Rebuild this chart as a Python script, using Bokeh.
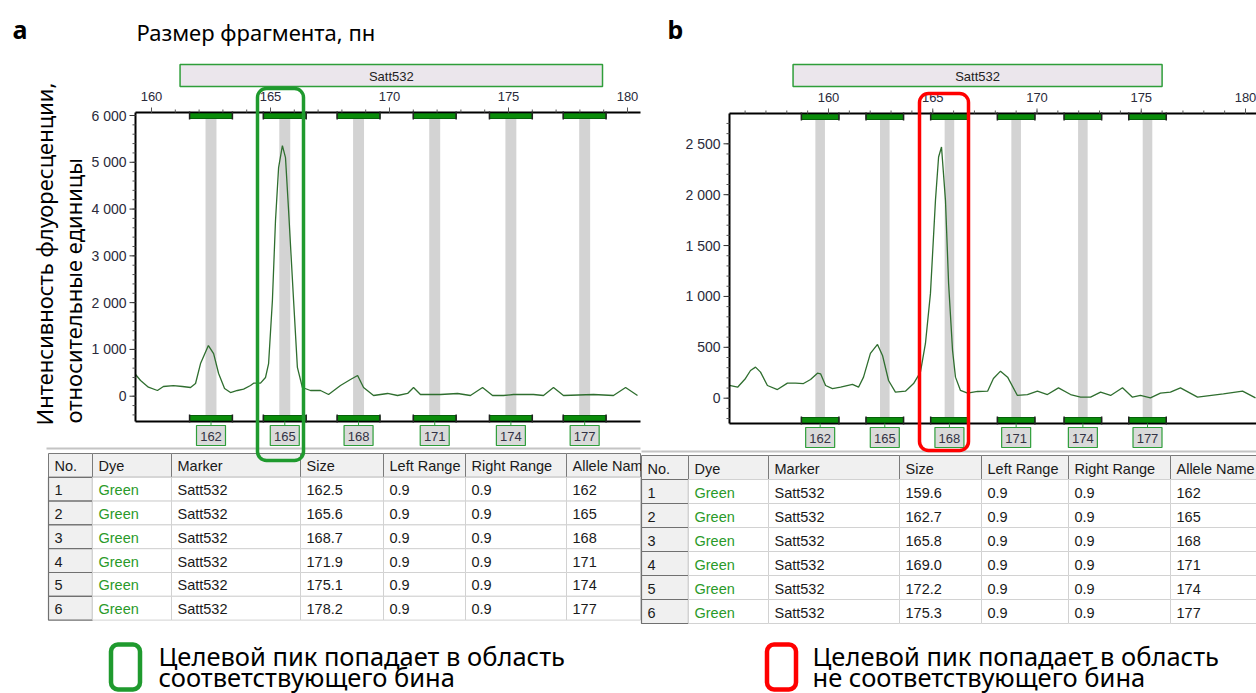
import math
from bokeh.plotting import figure
from bokeh.models import Range1d, BoxAnnotation
from bokeh.core.properties import value
from bokeh.embed import file_html
from bokeh.resources import INLINE

# ---------------- data ----------------
x_ticks = [160, 165, 170, 175, 180]
x_tick_labels = ["160", "165", "170", "175", "180"]
y_ticks_a = [0, 1000, 2000, 3000, 4000, 5000, 6000]
y_tick_labels_a = ["0", "1 000", "2 000", "3 000", "4 000", "5 000", "6 000"]
y_ticks_b = [0, 500, 1000, 1500, 2000, 2500]
y_tick_labels_b = ["0", "500", "1 000", "1 500", "2 000", "2 500"]

trace_size_a = [159.33, 159.54, 159.87, 160.25, 160.50, 160.92, 161.30, 161.64, 161.85, 162.06,
                162.39, 162.61, 162.82, 163.07, 163.32, 163.61, 163.87, 164.16, 164.29, 164.58,
                164.79, 164.92, 165.08, 165.21, 165.34, 165.50, 165.63, 165.76, 165.97, 166.13,
                166.34, 166.68, 167.10, 167.44, 167.94, 168.36, 168.66, 168.91, 169.33, 169.92,
                170.34, 170.76, 171.01, 171.30, 172.14, 172.86, 173.40, 173.91, 174.33, 174.79,
                175.21, 176.05, 176.47, 176.89, 177.31, 178.57, 179.41, 179.92, 180.42]
trace_rfu_a = [463, 335, 193, 122, 207, 228, 207, 186, 271, 698,
               1083, 912, 485, 165, 79, 122, 150, 228, 278, 280,
               400, 698, 2045, 3754, 4886, 5356, 5100, 3968, 2045, 615,
               186, 122, 122, 36, 228, 356, 442, 186, 15, 58,
               15, 58, 186, 36, 36, 58, 15, 186, 15, 15,
               36, 36, 15, 186, 15, 36, 15, 186, 15]

trace_size_b = [155.25, 155.64, 156.02, 156.26, 156.50, 156.74, 157.07, 157.55, 158.03, 158.42,
                158.80, 159.14, 159.47, 159.62, 159.86, 160.19, 160.58, 161.15, 161.44, 161.68,
                162.01, 162.35, 162.59, 162.88, 163.21, 163.69, 164.08, 164.41, 164.65, 164.89,
                165.13, 165.28, 165.42, 165.61, 165.76, 165.95, 166.09, 166.33, 166.67, 167.15,
                167.63, 167.91, 168.25, 168.59, 169.06, 169.54, 170.02, 170.50, 171.03, 171.61,
                172.09, 172.57, 173.05, 173.53, 174.10, 174.58, 174.96, 175.44, 175.92, 176.40,
                176.88, 177.70, 178.94, 179.86, 180.48]
trace_rfu_b = [125, 108, 194, 272, 305, 256, 125, 85, 148, 148,
               144, 184, 246, 240, 125, 95, 108, 135, 108, 207,
               440, 528, 420, 174, 59, 69, 144, 256, 538, 1030,
               1944, 2370, 2468, 1944, 1128, 469, 207, 76, 49, 66,
               69, 194, 266, 207, 27, 36, 69, 36, 102, 36,
               10, 10, 59, 27, 102, 10, 27, 3, 49, 59,
               102, 10, 43, 69, 3]

bin_no = [1, 2, 3, 4, 5, 6]
bin_dye = ["Green", "Green", "Green", "Green", "Green", "Green"]
bin_marker = ["Satt532", "Satt532", "Satt532", "Satt532", "Satt532", "Satt532"]
bin_size_a = [162.5, 165.6, 168.7, 171.9, 175.1, 178.2]
bin_size_b = [159.6, 162.7, 165.8, 169.0, 172.2, 175.3]
bin_left_range = [0.9, 0.9, 0.9, 0.9, 0.9, 0.9]
bin_right_range = [0.9, 0.9, 0.9, 0.9, 0.9, 0.9]
allele_names = ["162", "165", "168", "171", "174", "177"]
marker_name = "Satt532"
marker_range_a = [161.2, 178.95]
marker_range_b = [158.3, 176.0]
headers_a = ["No.", "Dye", "Marker", "Size", "Left Range", "Right Range", "Allele Nam"]
headers_b = ["No.", "Dye", "Marker", "Size", "Left Range", "Right Range", "Allele Name"]

title_text = "Размер фрагмента, пн"
ylabel_1 = "Интенсивность флуоресценции,"
ylabel_2 = "относительные единицы"
legend_good = ["Целевой пик попадает в область", "соответствующего бина"]
legend_bad = ["Целевой пик попадает в область", "не соответствующего бина"]

# ---------------- canvas (1 unit = 1 px of the page) ----------------
X0, X1, Y0, Y1 = 0, 1256, 0, 693
p = figure(width=X1 - X0, height=Y1 - Y0, x_range=Range1d(X0, X1), y_range=Range1d(Y1, Y0),
           output_backend="svg", toolbar_location=None, min_border=0,
           x_axis_location=None, y_axis_location=None)
p.grid.visible = False
p.outline_line_color = None
p.background_fill_color = "white"

RU = value("Noto Sans")
LS = value("Liberation Sans")


def txt(x, y, s, size, font=RU, color="#000000", align="left", baseline="middle",
        style="normal", angle=0.0, xr="default", yr="default"):
    n = max(len(v) if isinstance(v, list) else 1 for v in (x, y, s))

    def bc(v):
        return list(v) if isinstance(v, list) else [v] * n

    p.text(x=bc(x), y=bc(y), text=bc(s), text_font=font, text_font_size=size,
           text_color=color, text_align=align, text_baseline=baseline,
           text_font_style=style, angle=angle, x_range_name=xr, y_range_name=yr)


PA = dict(x160=151.0, pxu=23.8, y0=395.7, pyu=280.7 / 6000, left=135, right=640, top=112,
          bottom=421, label_y=435, bar_top=64, bar_bottom=86, minor_y=200)
PB = dict(x160=828.0, pxu=20.85, y0=397.7, pyu=254.4 / 2500, left=729, right=1256, top=113,
          bottom=423, label_y=437, bar_top=64, bar_bottom=86, minor_y=100)


def xd(P, px):
    return 160 + (px - P["x160"]) / P["pxu"]


def yd(P, py):
    return (P["y0"] - py) / P["pyu"]


def draw_panel(P, key, ts, tv, sizes, yt, ytl, mrange):
    xr, yr = key + "x", key + "y"
    p.extra_x_ranges[xr] = Range1d(xd(P, X0), xd(P, X1))
    p.extra_y_ranges[yr] = Range1d(yd(P, Y1), yd(P, Y0))
    L, R, T, B = P["left"], P["right"], P["top"], P["bottom"]
    lo = [s - l for s, l in zip(sizes, bin_left_range)]
    hi = [s + r for s, r in zip(sizes, bin_right_range)]
    # gray bin columns
    p.quad(left=[s - 0.23 for s in sizes], right=[s + 0.23 for s in sizes], top=T + 5,
           bottom=B - 5, x_range_name=xr, fill_color="#d3d3d3", line_color=None)
    # trace
    p.line(ts, tv, x_range_name=xr, y_range_name=yr, line_color="#2f6e2f", line_width=1.3)
    # frame
    p.segment(x0=[L, L, L], y0=[T, T, B], x1=[L, R, R], y1=[B, T, B],
              line_color="black", line_width=2)
    # top axis ticks
    xmin, xmax = math.ceil(xd(P, L)), math.floor(xd(P, R))
    minor = list(range(xmin, xmax + 1))
    p.segment(x0=minor, x1=minor, y0=T, y1=T - 3, x_range_name=xr, line_color="#555555")
    p.segment(x0=x_ticks, x1=x_ticks, y0=T, y1=T - 5, x_range_name=xr, line_color="#555555")
    txt(x_ticks, T - 16, x_tick_labels, "13px", font=LS, color="#2a2a3a", align="center",
        xr=xr)
    # left axis ticks
    step = P["minor_y"]
    ymin = math.ceil(yd(P, B) / step) * step
    ymax = math.floor(yd(P, T) / step) * step
    yminor = list(range(int(ymin), int(ymax) + 1, step))
    p.segment(x0=L - 3, x1=L, y0=yminor, y1=yminor, y_range_name=yr, line_color="#555555")
    p.segment(x0=L - 6, x1=L, y0=yt, y1=yt, y_range_name=yr, line_color="#333333")
    txt(L - 9, yt, ytl, "14px", font=LS, color="#2a2a3a", align="right", yr=yr)
    # bin bars top / bottom
    for top_, bot_ in ((T + 1, T + 6), (B - 6, B - 1)):
        p.quad(left=lo, right=hi, top=top_, bottom=bot_, x_range_name=xr,
               fill_color="#0a8c0a", line_color="#06600a", line_width=1)
    p.segment(x0=lo + hi, x1=lo + hi, y0=T - 1, y1=T + 7, x_range_name=xr,
              line_color="#222222", line_width=1.5)
    p.segment(x0=lo + hi, x1=lo + hi, y0=B - 7, y1=B + 1, x_range_name=xr,
              line_color="#222222", line_width=1.5)
    # bin label boxes
    ly = P["label_y"]
    p.segment(x0=sizes, x1=sizes, y0=B, y1=ly - 10, x_range_name=xr, line_color="#2e9e3a")
    p.rect(x=sizes, y=ly, width=29, height=20, width_units="screen", height_units="screen",
           x_range_name=xr, fill_color="#dadada", line_color="#2e9e3a", line_width=1.2)
    txt(sizes, ly + 1, allele_names, "13px", font=LS, color="#333344", align="center", xr=xr)
    # marker bar
    p.quad(left=[mrange[0]], right=[mrange[1]], top=P["bar_top"], bottom=P["bar_bottom"],
           x_range_name=xr, fill_color="#ebe6ec", line_color="#2f9e3a", line_width=1.5)
    txt((mrange[0] + mrange[1]) / 2, (P["bar_top"] + P["bar_bottom"]) / 2 + 1, marker_name,
        "13px", font=LS, color="#222222", align="center", xr=xr)


def draw_table(cols, top, rh, headers, sizes):
    lefts, rights = cols[:-1], cols[1:]
    pad, fs = 6, "14.5px"
    p.quad(left=lefts, right=rights, top=top, bottom=top + rh, fill_color="#f0f0f0",
           line_color="#7a7a7a", line_width=1)
    txt([l + pad for l in lefts], top + rh / 2 + 1, headers, fs, font=LS, color="#1a1a1a")
    cols_data = [[str(n) for n in bin_no], bin_dye, bin_marker, [f"{s:.1f}" for s in sizes],
                 [f"{v}" for v in bin_left_range], [f"{v}" for v in bin_right_range],
                 allele_names]
    ys = [top + rh * (i + 1) for i in range(len(bin_no))]
    for j in range(len(lefts)):
        if j == 0:
            p.quad(left=lefts[0], right=rights[0], top=ys, bottom=[y + rh for y in ys],
                   fill_color="#f0f0f0", line_color="#707070", line_width=1.2)
        else:
            p.quad(left=lefts[j], right=rights[j], top=ys, bottom=[y + rh for y in ys],
                   fill_color="white", line_color="#d2d2d2", line_width=1)
        color = "#2a9a2a" if j == 1 else "#1a1a1a"
        txt([lefts[j] + pad] * len(ys), [y + rh / 2 + 1 for y in ys], cols_data[j], fs,
            font=LS, color=color)


draw_panel(PA, "a", trace_size_a, trace_rfu_a, bin_size_a, y_ticks_a, y_tick_labels_a,
           marker_range_a)
draw_panel(PB, "b", trace_size_b, trace_rfu_b, bin_size_b, y_ticks_b, y_tick_labels_b,
           marker_range_b)

# separators above tables
p.segment(x0=[46, 641], x1=[640, 1256], y0=[448, 451], y1=[448, 451],
          line_color="#c4c4c4", line_width=2)
draw_table([48, 92, 171, 300, 383, 465, 566, 640], 453, 23.8, headers_a, bin_size_a)
draw_table([641, 688, 768, 899, 981, 1068, 1170, 1256], 455, 24.0, headers_b, bin_size_b)

# panel letters / titles
txt(12, 28, "a", "25px", style="bold")
txt(667, 28, "b", "25px", style="bold")
txt(136, 31, title_text, "22px")
txt(43, 425, ylabel_1, "22px", angle=math.pi / 2)
txt(72, 423, ylabel_2, "22px", angle=math.pi / 2)

# highlight boxes
p.add_layout(BoxAnnotation(left=257, right=303, top=88, bottom=460, fill_alpha=0,
                           line_color="#1f9a2e", line_width=3.5, line_alpha=1,
                           border_radius=9))
p.add_layout(BoxAnnotation(left=919, right=968, top=93, bottom=450, fill_alpha=0,
                           line_color="#ff0000", line_width=3.5, line_alpha=1,
                           border_radius=9))

# legend
p.add_layout(BoxAnnotation(left=110.5, right=139.5, top=644, bottom=689, fill_alpha=0,
                           line_color="#1f9a2e", line_width=4.5, line_alpha=1,
                           border_radius=7))
p.add_layout(BoxAnnotation(left=766.5, right=795.5, top=644, bottom=689, fill_alpha=0,
                           line_color="#ff0000", line_width=4.5, line_alpha=1,
                           border_radius=7))
txt(158, 655, legend_good[0], "25.5px")
txt(158, 676, legend_good[1], "25.5px")
txt(812, 655, legend_bad[0], "25.5px")
txt(812, 676, legend_bad[1], "25.5px")

open("out.html", "w").write(file_html(p, INLINE))
